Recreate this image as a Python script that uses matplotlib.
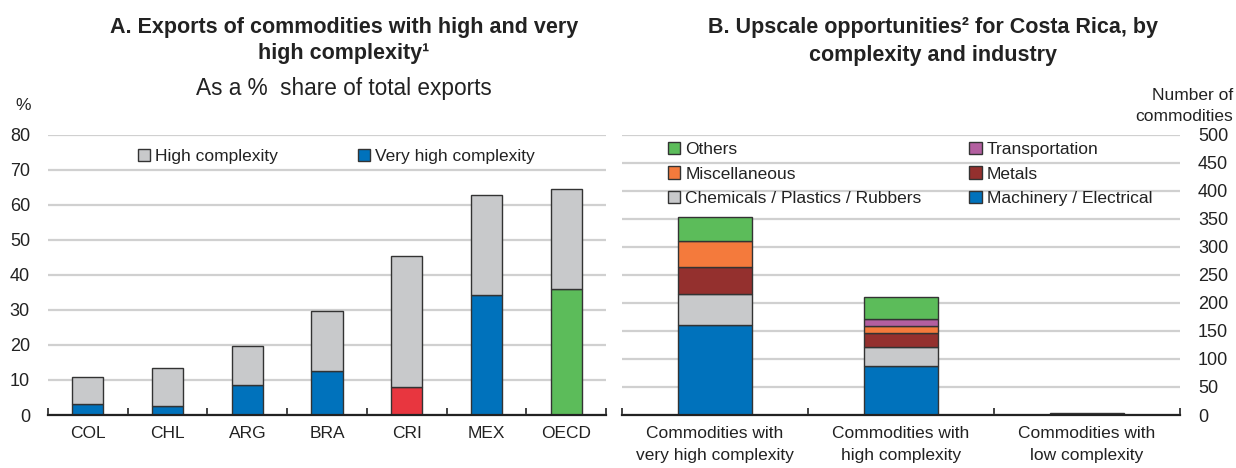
import matplotlib
matplotlib.use("Agg")
import matplotlib.pyplot as plt
import matplotlib.patches as mpatches
from matplotlib.ticker import FixedLocator
import numpy as np

plt.rcParams['font.family'] = ['Liberation Sans', 'DejaVu Sans']

# Panel A: exports by complexity, % of total exports
countries = ["COL", "CHL", "ARG", "BRA", "CRI", "MEX", "OECD"]
very_high = [3.1, 2.6, 8.5, 12.6, 7.9, 34.2, 35.9]
high_total = [10.9, 13.5, 19.7, 29.6, 45.4, 62.7, 64.5]

# Panel B: upscale opportunities by complexity and industry (number of commodities)
groups = ["Commodities with\nvery high complexity",
          "Commodities with\nhigh complexity",
          "Commodities with\nlow complexity"]
industries = ["Machinery / Electrical", "Chemicals / Plastics / Rubbers", "Metals",
              "Miscellaneous", "Transportation", "Others"]
machinery = [161, 87, 0]
chemicals = [54, 34, 0]
metals = [49, 26, 0]
miscellaneous = [46, 12, 0]
transportation = [0, 12, 0]
others = [43, 40, 3]

BLUE = "#0072bc"
GREY = "#c8c9cb"
RED = "#e8363f"
GREEN = "#5cbc5a"
ORANGE = "#f47a3c"
DARKRED = "#94302e"
PURPLE = "#b35fa0"
EDGE = "#333333"
GRID = "#d0d0d0"
TXT = "#222222"

FS = 12.5

W, H = 1236, 468
fig = plt.figure(figsize=(W / 100, H / 100), dpi=100)


def px_axes(x0, x1, y_top, y_bot):
    return fig.add_axes([x0 / W, 1 - y_bot / H, (x1 - x0) / W, (y_bot - y_top) / H])


def style(ax, n, side):
    for s in ("top", "left", "right"):
        ax.spines[s].set_visible(False)
    ax.spines["bottom"].set_color(TXT)
    ax.spines["bottom"].set_linewidth(1.6)
    ax.set_xlim(-0.5, n - 0.5)
    ax.xaxis.set_minor_locator(FixedLocator(np.arange(-0.5, n, 1.0)))
    ax.tick_params(axis="x", which="minor", direction="in", length=5, width=1.2, color=TXT)
    ax.tick_params(axis="x", which="major", length=0, pad=8, labelsize=FS, labelcolor=TXT)
    ax.yaxis.grid(True, color=GRID, linewidth=1.6)
    ax.set_axisbelow(True)
    if side == "right":
        ax.yaxis.tick_right()
    ax.tick_params(axis="y", length=0, pad=13, labelsize=13, labelcolor=TXT)


# ---- Panel A ----
axA = px_axes(48, 606, 134.7, 415)
xa = np.arange(len(countries))
high_part = [t - v for t, v in zip(high_total, very_high)]
vh_colors = [BLUE] * len(countries)
vh_colors[countries.index("CRI")] = RED
vh_colors[countries.index("OECD")] = GREEN
axA.bar(xa, very_high, width=0.39, color=vh_colors, edgecolor=EDGE, linewidth=1)
axA.bar(xa, high_part, bottom=very_high, width=0.39, color=GREY, edgecolor=EDGE, linewidth=1)
axA.set_ylim(0, 80)
axA.set_yticks(range(0, 81, 10))
axA.set_xticks(xa)
axA.set_xticklabels(countries)
style(axA, len(countries), "left")
hA = [mpatches.Patch(facecolor=GREY, edgecolor=EDGE, linewidth=1),
      mpatches.Patch(facecolor=BLUE, edgecolor=EDGE, linewidth=1)]
axA.legend(hA, ["High complexity", "Very high complexity"], ncol=2, frameon=False,
           loc="center left", bbox_to_anchor=((138 - 48) / 558, 0.922),
           borderaxespad=0, borderpad=0,
           fontsize=FS, handlelength=0.7, handleheight=0.7, handletextpad=0.3,
           columnspacing=4.6, labelcolor=TXT)

# ---- Panel B ----
axB = px_axes(622, 1180, 134.7, 415)
xb = np.arange(len(groups))
series = [machinery, chemicals, metals, miscellaneous, transportation, others]
colors = [BLUE, GREY, DARKRED, ORANGE, PURPLE, GREEN]
bottom = np.zeros(len(groups))
for vals, c in zip(series, colors):
    vals = np.array(vals, dtype=float)
    mask = vals > 0
    axB.bar(xb[mask], vals[mask], bottom=bottom[mask], width=0.40, color=c,
            edgecolor=EDGE, linewidth=1)
    bottom += vals
axB.set_ylim(0, 500)
axB.set_yticks(range(0, 501, 50))
axB.set_xticks(xb)
axB.set_xticklabels(groups, linespacing=1.6)
style(axB, len(groups), "right")
order = ["Others", "Miscellaneous", "Chemicals / Plastics / Rubbers",
         "Transportation", "Metals", "Machinery / Electrical"]
cmap = dict(zip(industries, colors))
hB = [mpatches.Patch(facecolor=cmap[k], edgecolor=EDGE, linewidth=1) for k in order]
axB.legend(hB, order, ncol=2, frameon=False, loc="upper left",
           bbox_to_anchor=((668 - 622) / 558, 1.0 - 7 / 280), fontsize=FS,
           borderaxespad=0, borderpad=0,
           handlelength=0.7, handleheight=0.7, handletextpad=0.3,
           labelspacing=0.55, columnspacing=2.75, labelcolor=TXT)

# ---- Titles and axis captions ----
fig.text(344 / W, 1 - 28 / H, "A. Exports of commodities with high and very",
         ha="center", va="center", fontsize=15.5, fontweight="bold", color=TXT)
fig.text(344 / W, 1 - 53 / H, "high complexity¹",
         ha="center", va="center", fontsize=15.5, fontweight="bold", color=TXT)
fig.text(344 / W, 1 - 88 / H, "As a %  share of total exports",
         ha="center", va="center", fontsize=16.3, color=TXT)
fig.text(933 / W, 1 - 28 / H, "B. Upscale opportunities² for Costa Rica, by",
         ha="center", va="center", fontsize=15.5, fontweight="bold", color=TXT)
fig.text(933 / W, 1 - 56 / H, "complexity and industry",
         ha="center", va="center", fontsize=15.5, fontweight="bold", color=TXT)
fig.text(23 / W, 1 - 106 / H, "%", ha="center", va="center", fontsize=FS, color=TXT)
fig.text(1233 / W, 1 - 106 / H, "Number of\ncommodities", ha="right", va="center",
         fontsize=FS, color=TXT, linespacing=1.5, multialignment="right")

fig.savefig("out.png", dpi=100)
